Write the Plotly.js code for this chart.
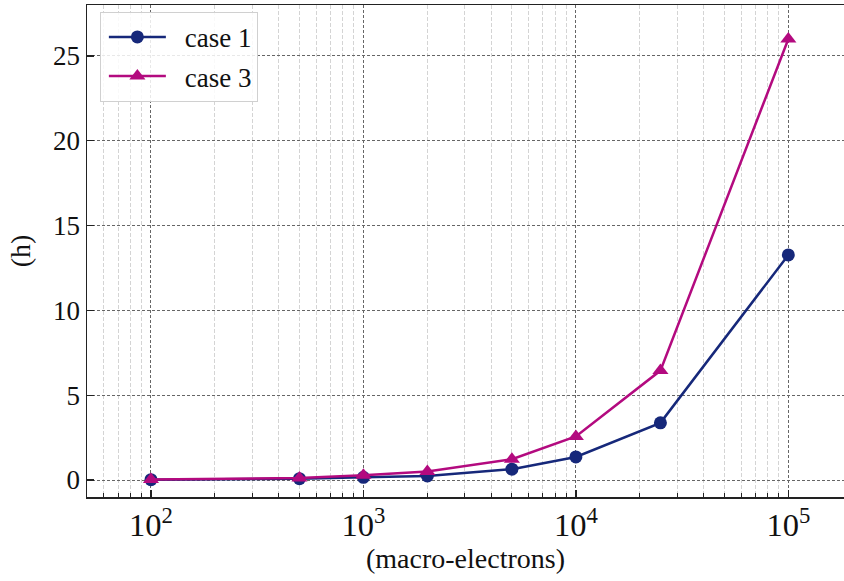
<!DOCTYPE html>
<html>
<head>
<meta charset="utf-8">
<script src="https://cdn.plot.ly/plotly-3.0.1.min.js"></script>
<style>
  html, body { margin: 0; padding: 0; background: #fff; }
  #chart { width: 844px; height: 581px; }
</style>
</head>
<body>
<div id="chart"></div>
<script>
// Number of macro-electrons per run
const macroElectrons = [100, 500, 1000, 2000, 5000, 10000, 25000, 100000];

// Run time in hours for each case
const case1Hours = [0.02, 0.08, 0.16, 0.24, 0.64, 1.36, 3.37, 13.27];
const case3Hours = [0.03, 0.12, 0.28, 0.50, 1.23, 2.57, 6.45, 26.0];

const seriesNames = ['case 1', 'case 3'];
const navy = '#16287a';
const magenta = '#b30a7f';
const serif = 'Liberation Serif';

const traces = [
  {
    x: macroElectrons, y: case1Hours, name: seriesNames[0],
    type: 'scatter', mode: 'lines+markers', legendgroup: 'g1',
    line: { color: navy, width: 2.5 },
    marker: { symbol: 'circle', size: 13, color: navy }
  },
  {
    x: macroElectrons, y: case3Hours, name: seriesNames[1],
    type: 'scatter', mode: 'lines+markers', legendgroup: 'g3',
    line: { color: magenta, width: 2.5 },
    marker: { symbol: 'triangle-up', size: 14, color: magenta }
  }
];

const layout = {
  width: 844, height: 581,
  margin: { l: 87, r: 0, t: 5, b: 84 },
  paper_bgcolor: '#fff', plot_bgcolor: '#fff',
  font: { family: serif, size: 26, color: '#111' },
  showlegend: true,
  legend: {
    x: 0.017, y: 0.986, xanchor: 'left', yanchor: 'top',
    bgcolor: 'rgba(255,255,255,0.85)', bordercolor: '#d0d0d0', borderwidth: 1,
    font: { family: serif, size: 27, color: '#111' },
    itemwidth: 74,
    tracegroupgap: 1
  },
  xaxis: {
    type: 'log',
    range: [Math.log10(50), 5.262],
    dtick: 1,
    title: { text: '(macro-electrons)', font: { family: serif, size: 28 }, standoff: 6 },
    exponentformat: 'power',
    tickfont: { family: serif, size: 26 },
    showline: true, linecolor: '#222', linewidth: 1.5, mirror: true,
    ticks: 'inside', ticklen: 7, tickwidth: 1.3, tickcolor: '#222',
    showgrid: true, gridcolor: '#666', gridwidth: 1, griddash: '3px,2px',
    zeroline: false,
    minor: {
      dtick: 'D1',
      ticks: 'inside', ticklen: 4, tickwidth: 1, tickcolor: '#222',
      showgrid: true, gridcolor: '#d4d4d4', gridwidth: 1, griddash: '4px,2px'
    }
  },
  yaxis: {
    range: [-1.0, 28.0],
    tickvals: [0, 5, 10, 15, 20, 25],
    tickfont: { family: serif, size: 27 },
    title: { text: '(h)', font: { family: serif, size: 28 }, standoff: 14 },
    showline: true, linecolor: '#222', linewidth: 1.5, mirror: false,
    ticks: 'inside', ticklen: 7, tickwidth: 1.3, tickcolor: '#222',
    showgrid: true, gridcolor: '#666', gridwidth: 1, griddash: '3px,2px',
    zeroline: false
  }
};

Plotly.newPlot('chart', traces, layout, { displayModeBar: false, staticPlot: true }).then(function (gd) {
  // Lengthen the legend line samples and centre the markers on them
  gd.querySelectorAll('.legend .traces').forEach(function (item) {
    item.querySelectorAll('.legendlines path').forEach(function (p) {
      p.setAttribute('d', 'M8,0h57');
    });
    item.querySelectorAll('.legendpoints path').forEach(function (p) {
      p.setAttribute('transform', 'translate(36.5,0)');
    });
  });
});
</script>
</body>
</html>
